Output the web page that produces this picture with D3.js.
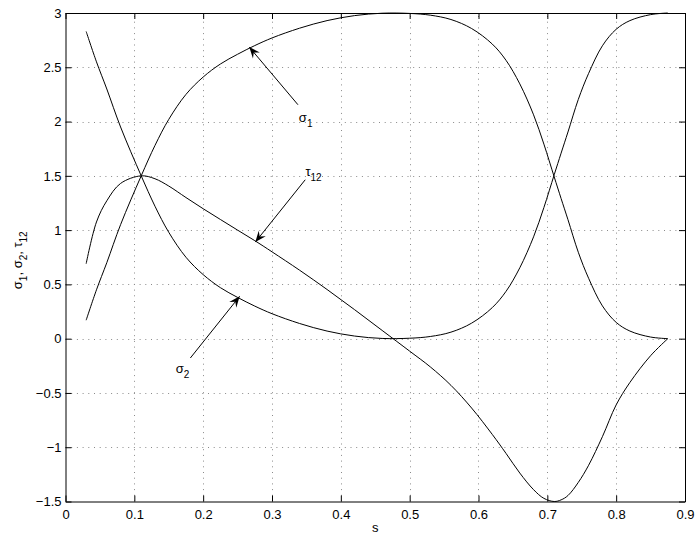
<!doctype html>
<html lang="en">
<head>
  <meta charset="utf-8">
  <title>sigma1, sigma2, tau12 vs s</title>
  <script src="https://d3js.org/d3.v7.min.js"></script>
  <style>
    body { margin: 0; background: #fff; }
    text { font-family: "Liberation Sans", Arial, Helvetica, sans-serif; fill: #000; }
  </style>
</head>
<body>
<svg id="chart" width="700" height="542"></svg>
<script>

  // values
  var sVals  = [0.03, 0.045, 0.06, 0.08, 0.11, 0.13, 0.15, 0.175, 0.2, 0.225, 0.25, 0.275, 0.3, 0.34, 0.38, 0.42, 0.46, 0.5, 0.53, 0.56, 0.59, 0.62, 0.64, 0.66, 0.68, 0.695, 0.71, 0.72, 0.73, 0.745, 0.76, 0.78, 0.8, 0.82, 0.85, 0.875];
  var sigma1 = [0.17, 0.45, 0.70, 1.05, 1.50, 1.78, 2.02, 2.25, 2.41, 2.53, 2.62, 2.70, 2.77, 2.86, 2.93, 2.976, 2.998, 2.996, 2.98, 2.94, 2.857, 2.714, 2.564, 2.347, 2.062, 1.792, 1.49, 1.291, 1.096, 0.796, 0.556, 0.302, 0.15, 0.07, 0.015, 0];
  var sigma2 = [2.83, 2.55, 2.30, 1.95, 1.50, 1.22, 0.98, 0.75, 0.59, 0.47, 0.38, 0.30, 0.23, 0.14, 0.07, 0.024, 0.002, 0.004, 0.02, 0.06, 0.143, 0.286, 0.436, 0.653, 0.938, 1.208, 1.51, 1.709, 1.904, 2.204, 2.444, 2.698, 2.85, 2.93, 2.985, 3.0];
  var tau12  = [0.69, 1.075, 1.27, 1.43, 1.50, 1.473, 1.406, 1.30, 1.197, 1.098, 1.00, 0.903, 0.80, 0.631, 0.453, 0.267, 0.076, -0.115, -0.26, -0.43, -0.639, -0.882, -1.057, -1.238, -1.391, -1.471, -1.50, -1.485, -1.445, -1.324, -1.166, -0.903, -0.61, -0.403, -0.157, 0.0];

  var xTicks = [0, 0.1, 0.2, 0.3, 0.4, 0.5, 0.6, 0.7, 0.8, 0.9];
  var yTicks = [-1.5, -1, -0.5, 0, 0.5, 1, 1.5, 2, 2.5, 3];

  // arrow annotations: label, subscript, head (s, v), tail (s, v), label anchor (s, v)
  var notes = [
    {sym: "\u03c3", sub: "1",  head: [0.267, 2.686], tail: [0.3377, 2.155], at: [0.339, 2.0]},
    {sym: "\u03c4", sub: "12", head: [0.2758, 0.89], tail: [0.3483, 1.464], at: [0.3485, 1.50]},
    {sym: "\u03c3", sub: "2",  head: [0.253, 0.39],  tail: [0.1814, -0.178], at: [0.160, -0.32]}
  ];

  var svg = d3.select("#chart");
  var mLeft = 65.5, mRight = 685, mTop = 13, mBottom = 501.5;

  var x = d3.scaleLinear().domain([0, 0.9]).range([mLeft, mRight]);
  var y = d3.scaleLinear().domain([-1.5, 3]).range([mBottom, mTop]);

  // dotted grid
  var grid = svg.append("g").attr("stroke", "#8a8a8a").attr("stroke-width", 1).attr("stroke-dasharray", "1,4.7");
  grid.selectAll(".gx").data(xTicks.slice(1, -1)).enter().append("line")
      .attr("x1", function(d) { return Math.round(x(d)) + 0.5; })
      .attr("x2", function(d) { return Math.round(x(d)) + 0.5; })
      .attr("y1", mBottom).attr("y2", mTop);
  grid.selectAll(".gy").data(yTicks.slice(1, -1)).enter().append("line")
      .attr("y1", function(d) { return Math.round(y(d)) + 0.5; })
      .attr("y2", function(d) { return Math.round(y(d)) + 0.5; })
      .attr("x1", mLeft).attr("x2", mRight);

  // axes, ticks point inward like matlab
  var axB = svg.append("g").attr("transform", "translate(0," + mBottom + ")")
      .call(d3.axisBottom(x).tickValues(xTicks).tickSizeInner(-6).tickSizeOuter(0).tickFormat(d3.format("")));
  var axT = svg.append("g").attr("transform", "translate(0," + mTop + ")")
      .call(d3.axisTop(x).tickValues(xTicks).tickSizeInner(-6).tickSizeOuter(0).tickFormat(""));
  var axL = svg.append("g").attr("transform", "translate(" + mLeft + ",0)")
      .call(d3.axisLeft(y).tickValues(yTicks).tickSizeInner(-6).tickSizeOuter(0)
        .tickFormat(function(d) { return d < 0 ? "\u2212" + Math.abs(d) : "" + d; }));
  var axR = svg.append("g").attr("transform", "translate(" + mRight + ",0)")
      .call(d3.axisRight(y).tickValues(yTicks).tickSizeInner(-6).tickSizeOuter(0).tickFormat(""));

  [axB, axT, axL, axR].forEach(function(a) {
    a.select(".domain").attr("stroke", "#000");
    a.selectAll(".tick line").attr("stroke", "#000");
    a.selectAll("text").attr("font-family", "Liberation Sans, Arial, sans-serif").attr("font-size", 13).attr("fill", "#000");
  });
  axB.selectAll(".tick text").attr("y", 8);
  axL.selectAll(".tick text").attr("x", -4);

  // curves
  var line = d3.line()
      .x(function(d) { return x(d[0]); })
      .y(function(d) { return y(d[1]); })
      .curve(d3.curveCatmullRom.alpha(0.5));

  [sigma1, sigma2, tau12].forEach(function(vals) {
    svg.append("path")
      .datum(sVals.map(function(s, i) { return [s, vals[i]]; }))
      .attr("fill", "none")
      .attr("stroke", "#000")
      .attr("stroke-width", 1)
      .attr("d", line);
  });

  // arrows with labels
  notes.forEach(function(n) {
    var hx = x(n.head[0]), hy = y(n.head[1]);
    var tx = x(n.tail[0]), ty = y(n.tail[1]);
    var ang = Math.atan2(hy - ty, hx - tx) * 180 / Math.PI;
    svg.append("line")
      .attr("x1", tx).attr("y1", ty).attr("x2", hx).attr("y2", hy)
      .attr("stroke", "#000").attr("stroke-width", 1);
    svg.append("path")
      .attr("d", "M0,0 L-11,-4.5 L-7,0 L-11,4.5 Z")
      .attr("transform", "translate(" + hx + "," + hy + ") rotate(" + ang + ")")
      .attr("fill", "#000");
    var t = svg.append("text")
      .attr("x", x(n.at[0])).attr("y", y(n.at[1]))
      .attr("font-size", 13);
    t.append("tspan").text(n.sym);
    t.append("tspan").attr("dy", 5).attr("font-size", 10).text(n.sub);
  });

  // axis labels
  svg.append("text")
    .attr("x", (mLeft + mRight) / 2).attr("y", 532)
    .attr("text-anchor", "middle").attr("font-size", 13)
    .text("s");

  var yl = svg.append("text")
    .attr("transform", "translate(22," + ((mTop + mBottom) / 2 + 3) + ") rotate(-90)")
    .attr("text-anchor", "middle").attr("font-size", 13);
  var parts = [["\u03c3", "1"], [", \u03c3", "2"], [", \u03c4", "12"]];
  parts.forEach(function(p, i) {
    yl.append("tspan").attr("dy", i ? -5 : 0).text(p[0]);
    yl.append("tspan").attr("dy", 5).attr("font-size", 10).text(p[1]);
  });

</script>
</body>
</html>
